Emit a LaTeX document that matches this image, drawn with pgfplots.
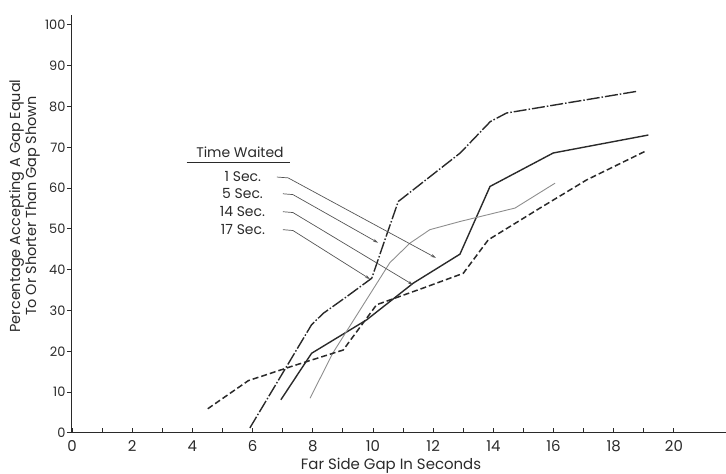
\documentclass[border=0pt]{standalone}
\usepackage{pgfplots}
\pgfplotsset{compat=1.18}
\usepackage{fontspec}
\setmainfont{Poppins}
\usetikzlibrary{arrows.meta}

\definecolor{ink}{HTML}{2A2A2A}
\definecolor{lightink}{HTML}{8E8E8E}
\definecolor{leader}{HTML}{555555}

\begin{document}
\begin{tikzpicture}
\begin{axis}[
  x=30.1bp, y=4.08bp,
  xmin=0, xmax=21.73, ymin=0, ymax=102.5,
  axis lines=left,
  axis line style={-, draw=ink, line width=1bp},
  clip=false,
  xtick={0,2,...,20}, minor xtick={1,3,...,19},
  ytick={0,10,...,100},
  tick align=inside,
  major tick length=5bp, minor tick length=5bp,
  tick style={draw=ink, line width=0.9bp},
  y tick style={xshift=-5bp},
  /pgf/number format/assume math mode=true,
  xticklabel style={font=\fontsize{15}{15}\selectfont, text=ink, yshift=-4bp},
  yticklabel style={font=\fontsize{13}{13}\selectfont, text=ink, xshift=-3bp},
]

% 1, 5, 14 and 17 second curves
\addplot[draw=ink, line width=1.4bp, dash pattern=on 13bp off 2bp on 1.5bp off 2bp]
  coordinates {(5.91,1.2) (7.96,26.5) (8.35,29.3) (9.13,33.4) (9.96,37.9)
               (10.34,46.1) (10.84,56.7) (12.9,68.6) (13.9,76.3) (14.44,78.4) (18.76,83.7)};
\addplot[draw=ink, line width=1.4bp]
  coordinates {(6.94,8.1) (7.96,19.5) (9.79,27.7) (11.34,36.7) (12.89,43.8)
               (13.89,60.4) (15.99,68.6) (19.15,73.0)};
\addplot[draw=lightink, line width=0.9bp]
  coordinates {(7.91,8.5) (8.67,19.6) (10.56,41.7) (11.23,46.5) (11.89,49.8)
               (12.89,51.8) (14.72,55.1) (16.05,61.2)};
\addplot[draw=ink, line width=1.5bp, dash pattern=on 6bp off 3bp]
  coordinates {(4.51,5.9) (5.86,12.8) (7.3,16.3) (9.01,20.3) (10.12,31.4)
               (11.67,35.5) (13.0,39.1) (13.83,47.3) (15.55,55.1) (17.1,62.0) (19.04,69.0)};

% key with leader arrows
\node[font=\fontsize{14}{14}\selectfont, text=ink] at (axis cs:5.58,68.9) {Time Waited};
\draw[ink, line width=1bp] (axis cs:3.81,66.3) -- (axis cs:7.24,66.3);
\begin{scope}[every node/.style={font=\fontsize{14}{14}\selectfont, text=ink, anchor=east}]
  \node at (axis cs:6.40,62.8) {1 Sec.};
  \node at (axis cs:6.46,58.75) {5 Sec.};
  \node at (axis cs:6.53,54.2) {14 Sec.};
  \node at (axis cs:6.53,49.9) {17 Sec.};
\end{scope}
\begin{scope}[leader, line width=0.7bp, -{Stealth[length=5bp,width=3bp]}]
  \draw (axis cs:6.81,62.7) -- (axis cs:7.18,62.5) -- (axis cs:12.09,42.9);
  \draw (axis cs:7.01,58.6) -- (axis cs:7.34,58.4) -- (axis cs:10.17,46.6);
  \draw (axis cs:7.01,54.2) -- (axis cs:7.34,54.0) -- (axis cs:11.33,36.3);
  \draw (axis cs:7.01,49.8) -- (axis cs:7.34,49.6) -- (axis cs:9.90,37.7);
\end{scope}

% axis titles
\node[font=\fontsize{15}{15}\selectfont, text=ink] at (axis cs:10.6,-8.0) {Far Side Gap In Seconds};
\node[font=\fontsize{14.5}{16}\selectfont, text=ink, rotate=90, align=center]
  at (axis cs:-1.58,55.6) {Percentage Accepting A Gap Equal\\To Or Shorter Than Gap Shown};

\coordinate (bbsw) at (axis cs:-2.392,-10.05);
\coordinate (bbne) at (axis cs:21.73,106.1);
\end{axis}
\pgfresetboundingbox
\path[use as bounding box] (bbsw) rectangle (bbne);
\end{tikzpicture}
\end{document}
